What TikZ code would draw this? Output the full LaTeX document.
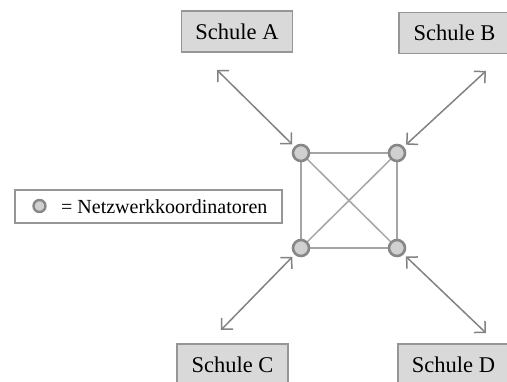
\documentclass[tikz,border=0pt]{standalone}
\usepackage{fontspec}
\setmainfont{Liberation Serif}
\usetikzlibrary{arrows.meta,backgrounds}
\definecolor{boxfill}{RGB}{217,217,217}
\definecolor{boxline}{RGB}{150,150,150}
\definecolor{dotfill}{RGB}{208,208,208}
\definecolor{dotline}{RGB}{135,135,135}
\definecolor{edgegray}{RGB}{165,165,165}
\definecolor{arrowgray}{RGB}{130,130,130}
\tikzset{
  school/.style={draw=boxline, fill=boxfill, line width=1.2pt,
    minimum width=111pt, minimum height=41pt, inner sep=0pt,
    font=\fontsize{22.5}{24}\selectfont},
  coord/.style={circle, draw=dotline, fill=dotfill, line width=2.6pt,
    minimum size=16pt, inner sep=0pt},
  link/.style={draw=edgegray, line width=1.5pt},
  both/.style={draw=arrowgray, line width=1.5pt,
    {Straight Barb[length=8pt,width=16pt]}-{Straight Barb[length=8pt,width=16pt]},
    shorten >=3pt},
  legendbox/.style={draw=boxline, line width=1.2pt, minimum width=267pt,
    minimum height=33pt, inner sep=0pt}
}
\begin{document}
\begin{tikzpicture}[x=1pt,y=-1pt]
\useasboundingbox (0,0) rectangle (507,381);
\clip (0,0) rectangle (507,381);

% schools
\node[school] (A) at (237,31.5) {Schule A};
\node[school] (B) at (454.5,33) {Schule B};
\node[school] (C) at (232.5,364.5) {Schule C};
\node[school] (D) at (453.5,364.5) {Schule D};

% network coordinators
\node[coord] (tl) at (301,153) {};
\node[coord] (tr) at (397,153) {};
\node[coord] (bl) at (301,248) {};
\node[coord] (br) at (397,248) {};

% full mesh between coordinators, behind the dots
\begin{scope}[on background layer]
\draw[link] (tl.center) -- (tr.center);
\draw[link] (tr.center) -- (br.center);
\draw[link] (br.center) -- (bl.center);
\draw[link] (bl.center) -- (tl.center);
\draw[link] (tl.center) -- (br.center);
\draw[link] (tr.center) -- (bl.center);
\end{scope}

% arrows to the schools
\coordinate (a) at (217,70);
\coordinate (b) at (486,71);
\coordinate (c) at (221,330);
\coordinate (d) at (486,333);
\draw[both] (a) -- (tl);
\draw[both] (b) -- (tr);
\draw[both] (c) -- (bl);
\draw[both] (d) -- (br);

% legend
\node[legendbox] (leg) at (148.5,206.5) {};
\node[coord, minimum size=12pt, line width=2.4pt] (legdot) at (39.5,206) {};
\node[anchor=west, inner sep=0pt, font=\fontsize{20}{22}\selectfont] (legtext) at (61,207) {= Netzwerkkoordinatoren};
\end{tikzpicture}
\end{document}
